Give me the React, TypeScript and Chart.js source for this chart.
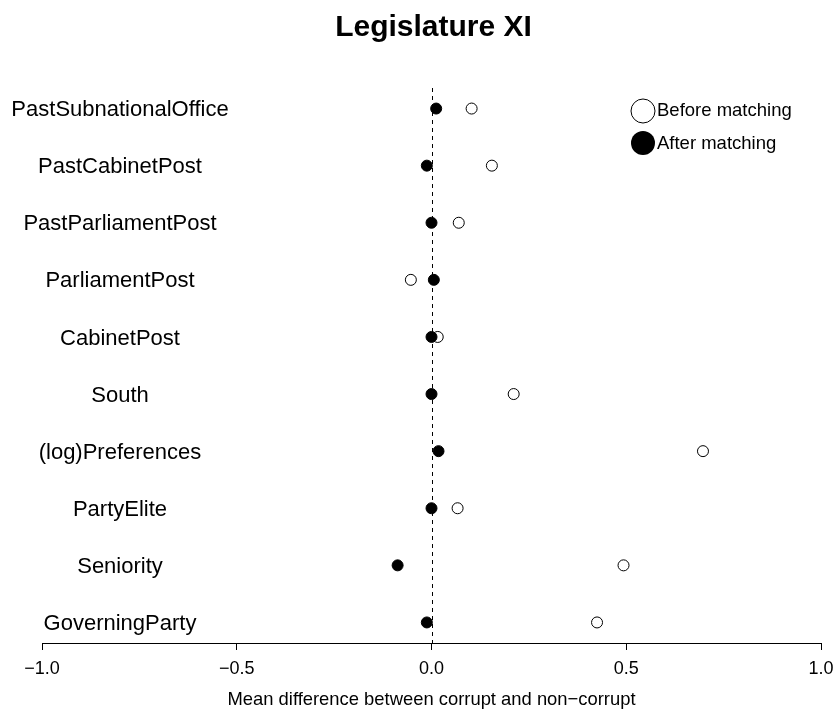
import React, { useEffect, useRef } from "react";
import { Chart, registerables } from "chart.js";

Chart.register(...registerables);

const TITLE = "Legislature XI";
const X_TITLE = "Mean difference between corrupt and non\u2212corrupt";
const ROW_LABELS = [
  "PastSubnationalOffice",
  "PastCabinetPost",
  "PastParliamentPost",
  "ParliamentPost",
  "CabinetPost",
  "South",
  "(log)Preferences",
  "PartyElite",
  "Seniority",
  "GoverningParty",
];
const BEFORE = [0.103, 0.155, 0.07, -0.053, 0.016, 0.211, 0.697, 0.067, 0.493, 0.425];
const AFTER = [0.012, -0.012, 0.0, 0.006, 0.0, 0.0, 0.018, 0.0, -0.087, -0.012];
const SERIES_LABELS = ["Before matching", "After matching"];
const X_TICKS = [-1, -0.5, 0, 0.5, 1];

const FONT = "'Liberation Sans', Arial, Helvetica, sans-serif";

export default function App() {
  const ref = useRef<HTMLCanvasElement | null>(null);

  useEffect(() => {
    if (!ref.current) return;
    const n = ROW_LABELS.length;
    const toPts = (arr: number[]) => arr.map((v, i) => ({ x: v, y: n - i }));

    const custom = {
      id: "custom",
      beforeDatasetsDraw(chart: any) {
        const { ctx, chartArea, scales } = chart;
        const x0 = scales.x.getPixelForValue(0);
        ctx.save();
        ctx.strokeStyle = "#000";
        ctx.lineWidth = 1;
        ctx.setLineDash([4, 4]);
        ctx.beginPath();
        ctx.moveTo(Math.round(x0) + 0.5, chartArea.top);
        ctx.lineTo(Math.round(x0) + 0.5, chartArea.bottom);
        ctx.stroke();
        ctx.restore();
      },
      afterDraw(chart: any) {
        const { ctx, scales, chartArea } = chart;
        ctx.save();
        ctx.fillStyle = "#000";
        // title
        ctx.font = `bold 30px ${FONT}`;
        ctx.textAlign = "center";
        ctx.textBaseline = "middle";
        ctx.fillText(TITLE, (chartArea.left + chartArea.right) / 2 + 2, 28);
        // row labels
        ctx.font = `22px ${FONT}`;
        ROW_LABELS.forEach((lab, i) => {
          const y = scales.y.getPixelForValue(n - i);
          ctx.fillText(lab, 120, y + 1.5);
        });
        // x axis title
        ctx.font = `18.4px ${FONT}`;
        ctx.fillText(X_TITLE, (chartArea.left + chartArea.right) / 2, 700);
        // legend
        const lx = 643;
        const ly = [111, 143];
        ctx.lineWidth = 1;
        ctx.strokeStyle = "#000";
        ctx.beginPath();
        ctx.arc(lx, ly[0], 12, 0, Math.PI * 2);
        ctx.stroke();
        ctx.beginPath();
        ctx.arc(lx, ly[1], 12, 0, Math.PI * 2);
        ctx.fill();
        ctx.font = `18.5px ${FONT}`;
        ctx.textAlign = "left";
        ctx.fillText(SERIES_LABELS[0], 657, ly[0]);
        ctx.fillText(SERIES_LABELS[1], 657, ly[1] + 1);
        ctx.restore();
      },
    };

    const chart = new Chart(ref.current, {
      type: "scatter",
      data: {
        datasets: [
          {
            label: SERIES_LABELS[0],
            data: toPts(BEFORE),
            pointStyle: "circle",
            pointRadius: 5.5,
            pointBackgroundColor: "rgba(0,0,0,0)",
            pointBorderColor: "#000",
            pointBorderWidth: 1,
          },
          {
            label: SERIES_LABELS[1],
            data: toPts(AFTER),
            pointStyle: "circle",
            pointRadius: 5.5,
            pointBackgroundColor: "#000",
            pointBorderColor: "#000",
            pointBorderWidth: 1,
          },
        ],
      },
      options: {
        animation: false,
        responsive: false,
        maintainAspectRatio: false,
        layout: { padding: { top: 88, left: 42, right: 15, bottom: 0 } },
        plugins: {
          legend: { display: false },
          tooltip: { enabled: false },
          title: { display: false },
        },
        scales: {
          x: {
            type: "linear",
            position: "bottom",
            min: -1,
            max: 1,
            afterBuildTicks: (scale: any) => {
              scale.ticks = X_TICKS.map((v) => ({ value: v }));
            },
            afterFit: (scale: any) => {
              scale.height = 66;
              scale.paddingLeft = 0;
              scale.paddingRight = 0;
            },
            ticks: {
              color: "#000",
              font: { family: FONT, size: 18 },
              padding: 8,
              maxRotation: 0,
              autoSkip: false,
              callback: (v: any) => (Number(v) < 0 ? "\u2212" : "") + Math.abs(Number(v)).toFixed(1),
            },
            grid: {
              drawOnChartArea: false,
              drawTicks: true,
              tickLength: 7,
              color: "#000",
              lineWidth: 1,
            },
            border: { display: true, color: "#000", width: 1 },
          },
          y: {
            type: "linear",
            display: false,
            min: 0.64,
            max: 10.36,
          },
        },
      },
      plugins: [custom],
    } as any);

    return () => chart.destroy();
  }, []);

  return (
    <div style={{ position: "absolute", left: 0, top: 0, width: 836, height: 709, background: "#fff" }}>
      <canvas ref={ref} width={836} height={709} style={{ display: "block" }} />
    </div>
  );
}
